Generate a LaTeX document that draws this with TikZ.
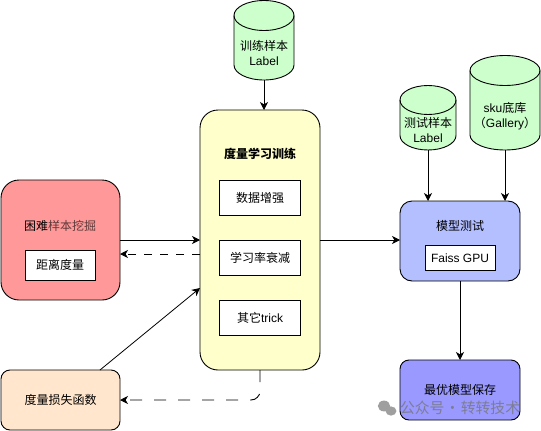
\documentclass[tikz,border=0pt]{standalone}
\usepackage{fontspec}
\setmainfont{Liberation Sans}
\newfontfamily\cjk{Noto Sans CJK SC}
\usetikzlibrary{arrows.meta,calc}
\newcommand{\zh}[1]{{\cjk #1}}
\definecolor{pinkfill}{HTML}{FF9999}
\definecolor{yellowfill}{HTML}{FFFFCC}
\definecolor{peachfill}{HTML}{FFE6CC}
\definecolor{greenfill}{HTML}{CCFFCC}
\definecolor{bluefill}{HTML}{B3BFFF}
\definecolor{violetfill}{HTML}{9999FF}
\definecolor{softtext}{HTML}{5E3A3A}
% \dbshape{centre x}{top y}{half width}{height}{ellipse half height}
% the y axis points down here, so arcs through 270 degrees bulge upwards
\newcommand{\dbshape}[5]{%
  \filldraw[draw=black,line width=.9pt,fill=greenfill]
    (#1-#3,#2+#5) arc[start angle=180,end angle=360,x radius=#3,y radius=#5]
    -- (#1+#3,#2+#4-#5) arc[start angle=0,end angle=180,x radius=#3,y radius=#5] -- cycle;
  \draw[line width=.9pt] (#1-#3,#2+#5) arc[start angle=180,end angle=0,x radius=#3,y radius=#5];
}
\tikzset{
  x=1pt,y=-1pt,
  every node/.style={font=\fontsize{12}{15}\selectfont,align=center,inner sep=0pt,outer sep=0pt},
  panel/.style={draw=black,line width=.9pt,rounded corners=#1},
  inbox/.style={draw=black,line width=.9pt,fill=white,minimum width=#1},
  conn/.style={draw=black,line width=.8pt,-{Stealth[length=8pt,width=8pt,inset=2.4pt]}},
  shortdash/.style={conn,line width=.9pt,dash pattern=on 8pt off 8pt},
  longdash/.style={conn,line width=.9pt,dash pattern=on 12pt off 12pt},
}
\begin{document}
\begin{tikzpicture}
\useasboundingbox (0,0) rectangle (541,431);
\fill[white] (0,0) rectangle (541,431);
% panels
\node[panel=18pt,fill=pinkfill,minimum width=119pt,minimum height=120pt] (pink) at (60.5,240) {};
\node[panel=18pt,fill=yellowfill,minimum width=120pt,minimum height=260pt] (yellow) at (260,240) {};
\node[panel=9pt,fill=peachfill,minimum width=119pt,minimum height=60pt] (peach) at (60.5,400) {\zh{度量损失函数}};
\node[panel=12pt,fill=bluefill,minimum width=120pt,minimum height=80pt] (blue) at (460,241) {};
\node[panel=9pt,fill=violetfill,minimum width=120pt,minimum height=60pt] (best) at (460,390) {\zh{最优模型保存}};
% panel captions and inner boxes
\node (pinktitle) at (60,226) {\zh{困难\textcolor{softtext}{样本挖掘}}};
\node[inbox=70pt,minimum height=30pt] (dist) at (60,265) {\zh{距离度量}};
\node (yellowtitle) at (260,154) {\zh{\bfseries 度量学习训练}};
\node[inbox=81pt,minimum height=35pt] (aug) at (260,198) {\zh{数据增强}};
\node[inbox=81pt,minimum height=35pt] (lr) at (260,258) {\zh{学习率衰减}};
\node[inbox=81pt,minimum height=35pt] (trick) at (260,318) {\zh{其它}trick};
\node (bluetitle) at (460,226) {\zh{模型测试}};
\node[inbox=70pt,minimum height=25pt] (faiss) at (460,258) {Faiss GPU};
% databases
\dbshape{264}{0.5}{30}{79.5}{15}
\node[minimum width=60pt,minimum height=79.5pt] (train) at (264,40.25) {};
\node (traintext) at (264,53) {\zh{训练样本}\\Label};
\dbshape{428}{85.5}{28}{64.5}{14.5}
\node[minimum width=56pt,minimum height=64.5pt] (test) at (428,117.75) {};
\node (testtext) at (428,130) {\zh{测试样本}\\Label};
\dbshape{505}{55.5}{35}{94.5}{15}
\node[minimum width=70pt,minimum height=94.5pt] (sku) at (505,102.75) {};
\node (skutext) at (505,116) {sku\zh{底库}\\\zh{（}Gallery\zh{）}};
% connectors
\coordinate (peachout) at (100,370);
\coordinate (yellowin) at (200,288);
\draw[conn] (train.south) -- (train.south |- yellow.north);
\draw[conn] (pink.east) -- (pink.east -| yellow.west);
\draw[shortdash] ([yshift=-14pt]yellow.west) -- ([yshift=-14pt]yellow.west -| pink.east);
\draw[conn] (peachout) -- (yellowin);
\draw[conn] (yellow.east) -- (yellow.east -| blue.west);
\draw[longdash,rounded corners=9pt] (yellow.south) -- (yellow.south |- peach.east) -- (peach.east);
\draw[conn] (test.south) -- (test.south |- blue.north);
\draw[conn] (sku.south) -- (sku.south |- blue.north);
\draw[conn] (blue.south) -- (best.north);
% watermark
\fill[gray!75] (384,406) ellipse (6.2pt and 5.4pt);
\fill[gray!75] (391,411) ellipse (5.4pt and 4.6pt);
\node[font=\fontsize{14.8}{16}\selectfont,text=gray!90!black,opacity=.75,anchor=west] (mark) at (400,408) {\zh{公众号\makebox[16.5pt]{·}转转技术}};
\end{tikzpicture}
\end{document}
